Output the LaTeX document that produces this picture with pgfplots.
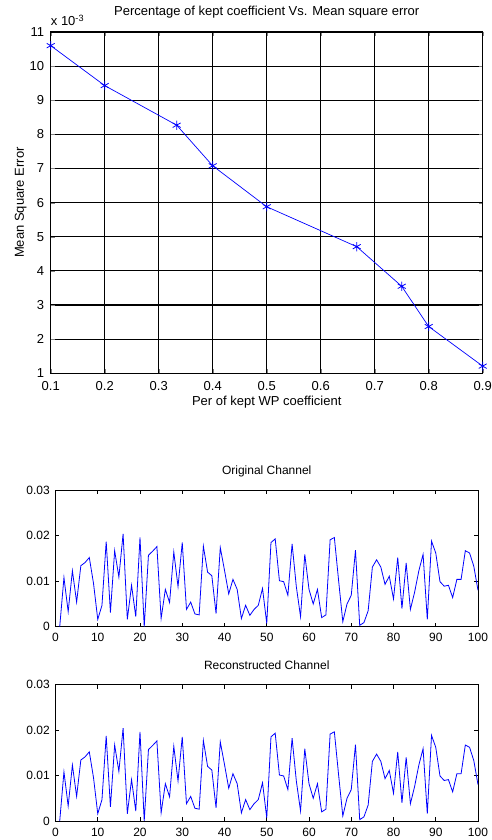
\documentclass[border=0pt]{standalone}
\usepackage{fontspec}
\setmainfont{Liberation Sans}
\usepackage{pgfplots}
\pgfplotsset{compat=1.18}
\usepackage{pgfplotstable}
\usetikzlibrary{calc}
\pgfplotstableread{
x y
0.1 10.60
0.2 9.43
0.3333 8.27
0.4 7.08
0.5 5.88
0.6667 4.71
0.75 3.55
0.8 2.37
0.9 1.21
}\msetable
\pgfplotstableread{
x y
1 0.0000
2 0.0108
3 0.0033
4 0.0123
5 0.0054
6 0.0134
7 0.0141
8 0.0152
9 0.0095
10 0.0016
11 0.0047
12 0.0187
13 0.0031
14 0.0167
15 0.0109
16 0.0204
17 0.0016
18 0.0091
19 0.0022
20 0.0196
21 0.0000
22 0.0157
23 0.0166
24 0.0176
25 0.0018
26 0.0082
27 0.0053
28 0.0164
29 0.0088
30 0.0185
31 0.0038
32 0.0054
33 0.0028
34 0.0026
35 0.0177
36 0.0120
37 0.0112
38 0.0029
39 0.0174
40 0.0124
41 0.0072
42 0.0104
43 0.0082
44 0.0018
45 0.0047
46 0.0025
47 0.0038
48 0.0047
49 0.0084
50 0.0007
51 0.0185
52 0.0193
53 0.0101
54 0.0099
55 0.0069
56 0.0182
57 0.0088
58 0.0022
59 0.0159
60 0.0082
61 0.0050
62 0.0082
63 0.0020
64 0.0026
65 0.0191
66 0.0196
67 0.0102
68 0.0011
69 0.0050
70 0.0069
71 0.0168
72 0.0003
73 0.0009
74 0.0035
75 0.0131
76 0.0147
77 0.0131
78 0.0093
79 0.0111
80 0.0061
81 0.0152
82 0.0040
83 0.0140
84 0.0038
85 0.0076
86 0.0123
87 0.0159
88 0.0016
89 0.0188
90 0.0162
91 0.0099
92 0.0089
93 0.0091
94 0.0064
95 0.0104
96 0.0104
97 0.0167
98 0.0162
99 0.0133
100 0.0080
}\sigtable
\definecolor{mblue}{rgb}{0,0,1}
\pgfplotsset{
  chanaxis/.style={
    anchor=south west, scale only axis,
    width=422.5pt, height=136.5pt,
    xmin=0, xmax=100, ymin=0, ymax=0.03,
    scaled x ticks=false, scaled y ticks=false,
    xtick={0,10,...,100},
    xticklabels={0,10,20,30,40,50,60,70,80,90,100},
    ytick={0,0.01,0.02,0.03},
    yticklabels={0,0.01,0.02,0.03},
    tick align=inside, major tick length=4pt,
    axis line style={line width=0.8pt},
    every tick/.style={black, line width=0.6pt},
    tick label style={font=\fontsize{12}{14}\selectfont},
    xticklabel style={anchor=base, inner sep=0pt, yshift=-15pt},
    yticklabel style={anchor=east, inner sep=0pt, xshift=-5.5pt},
    title style={font=\fontsize{12}{14}\selectfont, at={(axis description cs:0.5,1)}, anchor=base, inner sep=0pt, yshift=9.3pt},
  }
}
\begin{document}
\begin{tikzpicture}
\useasboundingbox (0pt,0pt) rectangle (491pt,840pt);
\begin{axis}[
  at={(50.7pt,466.7pt)}, anchor=south west, scale only axis,
  width=432pt, height=341.3pt,
  xmin=0.1, xmax=0.9, ymin=1, ymax=11,
  clip=false,
  scaled x ticks=false, scaled y ticks=false,
  xtick={0.1,0.2,0.3,0.4,0.5,0.6,0.7,0.8,0.9},
  xticklabels={0.1,0.2,0.3,0.4,0.5,0.6,0.7,0.8,0.9},
  ytick={1,2,3,4,5,6,7,8,9,10,11},
  yticklabels={1,2,3,4,5,6,7,8,9,10,11},
  grid=major, grid style={black, line width=1.1pt},
  axis line style={line width=1.1pt},
  tick align=inside, major tick length=4pt,
  tick label style={font=\fontsize{13}{15}\selectfont},
  xticklabel style={anchor=base, inner sep=0pt, yshift=-17.4pt},
  yticklabel style={anchor=east, inner sep=0pt, xshift=-6.5pt},
  title={Percentage of kept coefficient Vs. Mean square error},
  title style={font=\fontsize{13}{15}\selectfont, at={(axis description cs:0.5,1)}, anchor=base, inner sep=0pt, yshift=10pt},
  xlabel={Per of kept WP coefficient},
  xlabel style={font=\fontsize{13}{15}\selectfont, at={(axis description cs:0.5,0)}, anchor=base, inner sep=0pt, yshift=-32.4pt},
  ylabel={Mean Square Error},
  ylabel style={font=\fontsize{13}{15}\selectfont, at={($(axis description cs:0,0.5)+(-26.7pt,0pt)$)}, anchor=base, inner sep=0pt},
]
\addplot[mblue, line width=0.7pt, mark=asterisk, mark size=4.6pt, mark options={line width=0.8pt}] table[x=x,y=y] {\msetable};
\node[anchor=base west, inner sep=0pt, yshift=6pt, font=\fontsize{13}{15}\selectfont] at (rel axis cs:0,1) {x 10\textsuperscript{-3}};
\end{axis}
\begin{axis}[chanaxis, at={(55.5pt,213.3pt)}, title={Original Channel}]
\addplot[mblue, line width=0.8pt, no marks] table[x=x,y=y] {\sigtable};
\end{axis}
\begin{axis}[chanaxis, at={(55.5pt,19pt)}, title={Reconstructed Channel}]
\addplot[mblue, line width=0.8pt, no marks] table[x=x,y=y] {\sigtable};
\end{axis}
\end{tikzpicture}
\end{document}
